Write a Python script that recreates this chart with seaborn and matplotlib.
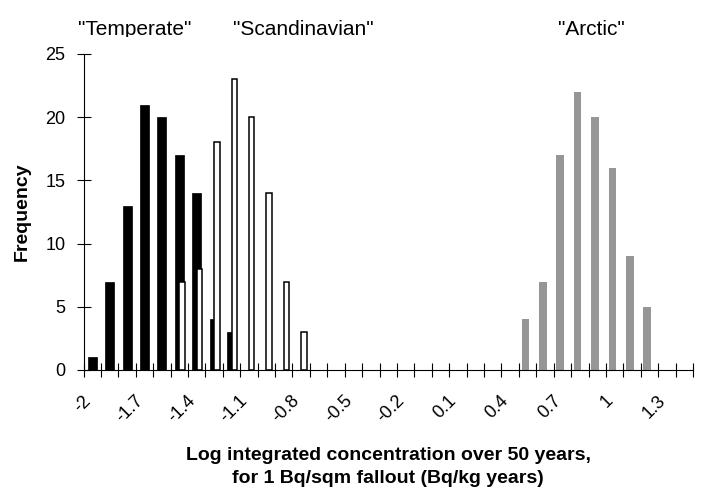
import numpy as np
import pandas as pd
import matplotlib
matplotlib.use("Agg")
import matplotlib.pyplot as plt
import matplotlib.transforms as mtrans
import seaborn as sns

# bin labels (log integrated concentration)
bins = ["-2", "-1.9", "-1.8", "-1.7", "-1.6", "-1.5", "-1.4", "-1.3", "-1.2",
        "-1.1", "-1", "-0.9", "-0.8", "-0.7", "-0.6", "-0.5", "-0.4", "-0.3",
        "-0.2", "-0.1", "0", "0.1", "0.2", "0.3", "0.4", "0.5", "0.6", "0.7",
        "0.8", "0.9", "1", "1.1", "1.2", "1.3", "1.4"]

temperate = [1, 7, 13, 21, 20, 17, 14, 4, 3, 0, 0, 0, 0, 0, 0, 0, 0, 0,
             0, 0, 0, 0, 0, 0, 0, 0, 0, 0, 0, 0, 0, 0, 0, 0, 0]
scandinavian = [0, 0, 0, 0, 0, 7, 8, 18, 23, 20, 14, 7, 3, 0, 0, 0, 0, 0,
                0, 0, 0, 0, 0, 0, 0, 0, 0, 0, 0, 0, 0, 0, 0, 0, 0]
arctic = [0, 0, 0, 0, 0, 0, 0, 0, 0, 0, 0, 0, 0, 0, 0, 0, 0, 0,
          0, 0, 0, 0, 0, 0, 0, 4, 7, 17, 22, 20, 16, 9, 5, 0, 0]

group_names = ['"Temperate"', '"Scandinavian"', '"Arctic"']

sns.set_theme(style="white")
plt.rcParams["font.family"] = ["Liberation Sans", "DejaVu Sans"]
plt.rcParams["text.color"] = "black"
plt.rcParams["xtick.color"] = "black"
plt.rcParams["ytick.color"] = "black"

fig = plt.figure(figsize=(7.1, 4.95), dpi=100)
ax = fig.add_axes([83.5 / 710, 125 / 495, 609.5 / 710, 316 / 495])


def draw(values, color, edge, lw, width, shift):
    df = pd.DataFrame({"bin": bins, "count": values})
    df = df[df["count"] > 0]
    n0 = len(ax.patches)
    sns.barplot(data=df, x="bin", y="count", order=bins, color=color,
                edgecolor=edge, linewidth=lw, width=width, saturation=1,
                errorbar=None, ax=ax)
    for p in ax.patches[n0:]:
        p.set_x(p.get_x() + shift)


draw(arctic, "#969696", "none", 0, 0.44, -0.125)
draw(temperate, "black", "black", 0.5, 0.52, 0.0)
draw(scandinavian, "white", "black", 1.1, 0.31, 0.155)

ax.set_xlim(-0.5, len(bins) - 0.5)
ax.set_ylim(0, 25)
ax.set_yticks(range(0, 26, 5))

# ticks between categories, labels every third bin
ax.set_xticks(np.arange(len(bins) + 1) - 0.5)
ax.set_xticklabels([])
ax.set_xticks(np.arange(0, len(bins), 3), minor=True)
ax.set_xticklabels(bins[::3], minor=True, rotation=45, ha="right",
                   va="top", rotation_mode="anchor")
ax.tick_params(axis="x", which="major", direction="inout", length=10,
               width=0.8, color="black", bottom=True)
ax.tick_params(axis="x", which="minor", length=0, pad=16, labelsize=13,
               labelcolor="black", bottom=True)
ax.tick_params(axis="y", direction="inout", length=10, width=0.8,
               color="black", pad=8, labelsize=13, labelcolor="black",
               left=True)
shift = mtrans.ScaledTranslation(-10 / 100, 0, fig.dpi_scale_trans)
for lab in ax.get_xticklabels(minor=True):
    lab.set_transform(lab.get_transform() + shift)

sns.despine(ax=ax)
for s in ["left", "bottom"]:
    ax.spines[s].set_color("black")
    ax.spines[s].set_linewidth(0.8)
ax.set_xlabel("")
ax.set_ylabel("")

fig.text(22 / 710, 1 - 212 / 495, "Frequency", rotation=90, ha="center",
         va="center", fontsize=14, fontweight="bold")
fig.text(388 / 710, 1 - 447 / 495,
         "Log integrated concentration over 50 years,\nfor 1 Bq/sqm fallout (Bq/kg years)",
         ha="center", va="top", fontsize=14, fontweight="bold", linespacing=1.45)

for name, xc in zip(group_names, [135, 303, 591]):
    t = fig.text(xc / 710, 1 - 35 / 495, name, ha="center", va="baseline",
                 fontsize=15)
    if name == '"Temperate"':
        t.set_clip_box(mtrans.TransformedBbox(
            mtrans.Bbox([[0, 1 - 37 / 495], [1, 1]]), fig.transFigure))
        t.set_clip_on(True)

fig.savefig("out.png", dpi=100)
